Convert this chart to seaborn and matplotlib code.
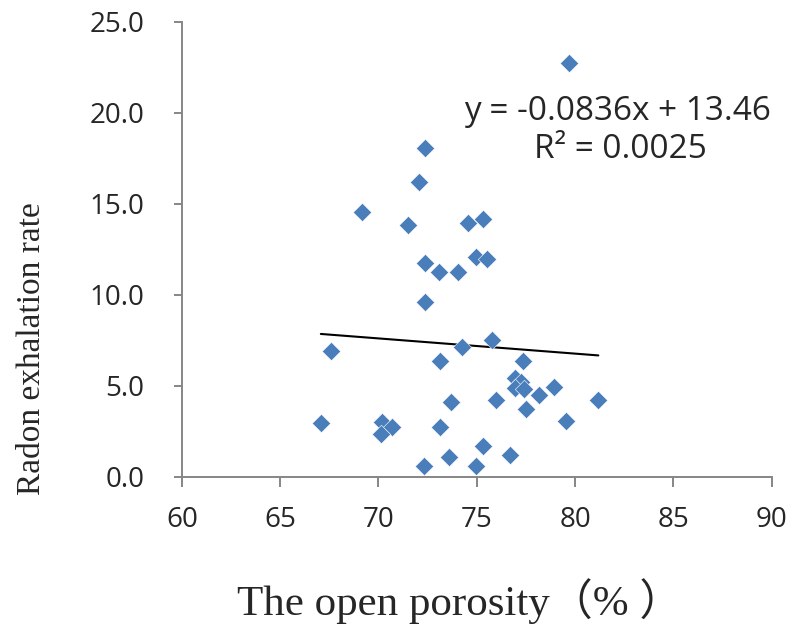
import matplotlib
matplotlib.use("Agg")
import matplotlib.pyplot as plt
import seaborn as sns
import numpy as np
import pandas as pd

# ---- data ----
porosity = [79.67, 72.39, 72.05, 69.15, 71.52, 74.56, 75.32, 74.98, 75.54, 72.39,
            73.07, 74.03, 72.39, 67.61, 73.15, 74.25, 75.76, 77.37, 76.93, 77.27,
            76.93, 77.40, 78.15, 78.91, 81.18, 75.96, 73.69, 77.49, 79.56, 67.07,
            70.18, 70.69, 70.12, 73.15, 75.32, 73.57, 76.71, 72.29, 74.98]
radon = [22.76, 18.08, 16.20, 14.54, 13.85, 13.97, 14.19, 12.10, 11.98, 11.74,
         11.26, 11.26, 9.63, 6.94, 6.35, 7.16, 7.53, 6.35, 5.42, 5.24,
         4.87, 4.82, 4.49, 4.95, 4.25, 4.25, 4.14, 3.75, 3.08, 2.97,
         3.00, 2.73, 2.33, 2.73, 1.67, 1.08, 1.21, 0.62, 0.62]
slope = -0.0836
intercept = 13.46
r_squared = 0.0025
x_ticks = [60, 65, 70, 75, 80, 85, 90]
y_ticks = [0, 5, 10, 15, 20, 25]
x_label = "The open porosity（% ）"
y_label = "Radon exhalation rate"

df = pd.DataFrame({"porosity": porosity, "radon": radon})
trend_x = [min(porosity), max(porosity)]
trend = pd.DataFrame({"x": trend_x, "y": [slope * v + intercept for v in trend_x]})

sns.set_style("white")
plt.rcParams["font.family"] = ["Open Sans", "DejaVu Sans"]

fig = plt.figure(figsize=(7.94, 6.25), dpi=100)
ax = fig.add_axes([0.229, 0.237, 0.743, 0.728])

sns.scatterplot(data=df, x="porosity", y="radon", marker="D", s=88,
                color="#4A7EBB", edgecolor="white", linewidth=0.4, ax=ax, zorder=3)
sns.lineplot(data=trend, x="x", y="y", color="black", linewidth=1.5, ax=ax, zorder=2)

ax.set_xlim(60, 90)
ax.set_ylim(0, 25)
ax.set_xticks(x_ticks)
ax.set_yticks(y_ticks)
ax.set_xticklabels([str(t) for t in x_ticks])
ax.set_yticklabels([f"{t:.1f}" for t in y_ticks])
ax.set_xlabel("")
ax.set_ylabel("")

grey = "#868686"
for side in ["top", "right"]:
    ax.spines[side].set_visible(False)
for side in ["left", "bottom"]:
    ax.spines[side].set_color(grey)
    ax.spines[side].set_linewidth(1.4)
ax.tick_params(axis="y", direction="out", length=6, width=1.4, color=grey,
               labelsize=20, pad=21, left=True)
ax.tick_params(axis="x", direction="out", length=7, width=1.4, color=grey,
               labelsize=20, pad=14, bottom=True)

fig.text(237 / 794, 1 - 615 / 625, x_label, ha="left", va="baseline",
         fontsize=31, family=["Liberation Serif", "Noto Sans CJK SC"])
fig.text(32 / 794, 1 - 349 / 625, y_label, ha="center", va="center",
         rotation=90, fontsize=24, family=["Liberation Serif"])

fig.text(617 / 794, 1 - 111 / 625, f"y = {slope}x + {intercept}", ha="center",
         va="center", fontsize=24)
fig.text(620 / 794, 1 - 150 / 625, f"R² = {r_squared}", ha="center",
         va="center", fontsize=24)

fig.savefig("out.png", dpi=100)
